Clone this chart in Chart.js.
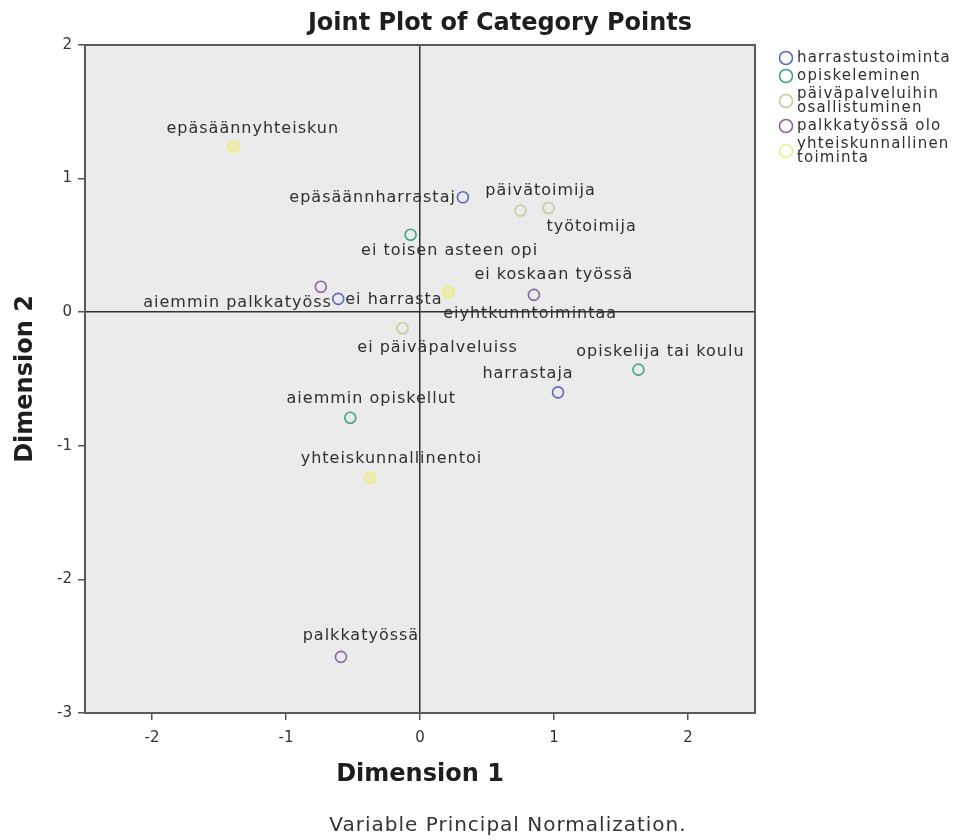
<!DOCTYPE html>
<html>
<head>
<meta charset="utf-8">
<script src="https://cdn.jsdelivr.net/npm/chart.js@4.4.1/dist/chart.umd.min.js"></script>
<style>
  html, body { margin: 0; background: #fff; }
  #wrap { width: 974px; height: 840px; }
</style>
</head>
<body>
<div id="wrap"><canvas id="joint"></canvas></div>
<script>
// category points (dimension 1 = x, dimension 2 = y)
const groupNames = ['harrastustoiminta', 'opiskeleminen', 'päiväpalveluihin osallistuminen', 'palkkatyössä olo', 'yhteiskunnallinen toiminta'];

const harrastusLabels = ['epäsäännharrastaj', 'ei harrasta', 'harrastaja'];
const harrastusX = [0.32, -0.61, 1.03];
const harrastusY = [0.86, 0.10, -0.60];

const opiskeluLabels = ['ei toisen asteen opi', 'aiemmin opiskellut', 'opiskelija tai koulu'];
const opiskeluX = [-0.07, -0.52, 1.63];
const opiskeluY = [0.58, -0.79, -0.43];

const paivaLabels = ['päivätoimija', 'työtoimija', 'ei päiväpalveluiss'];
const paivaX = [0.75, 0.96, -0.13];
const paivaY = [0.76, 0.78, -0.12];

const palkkaLabels = ['aiemmin palkkatyöss', 'ei koskaan työssä', 'palkkatyössä'];
const palkkaX = [-0.74, 0.85, -0.59];
const palkkaY = [0.19, 0.13, -2.58];

const yhteisLabels = ['epäsäännyhteiskun', 'eiyhtkunntoimintaa', 'yhteiskunnallinentoi'];
const yhteisX = [-1.39, 0.21, -0.37];
const yhteisY = [1.24, 0.15, -1.24];

const xTicks = [-2, -1, 0, 1, 2];
const yTicks = [-3, -2, -1, 0, 1, 2];

// where each label sits next to its point: [align, dx, dy] in px
const harrastusPos = [['right', -7, 1], ['left', 7, 1], ['center', -30, -19]];
const opiskeluPos = [['center', 39, 16], ['center', 21, -19], ['center', 22, -18]];
const paivaPos = [['center', 20, -20], ['center', 43, 19], ['center', 35, 20]];
const palkkaPos = [['right', 11, 16], ['center', 20, -20], ['center', 20, -21]];
const yhteisPos = [['center', 19, -18], ['center', 82, 22], ['center', 21, -19]];

const colors = ['#5a68bb', '#3fa57c', '#cbc99f', '#8a62a6', '#ecec8e'];
const FONT = '"DejaVu Sans", sans-serif';

function pts(xs, ys) {
  return xs.map((x, i) => ({ x: x, y: ys[i] }));
}

const groups = [
  { xs: harrastusX, ys: harrastusY, labels: harrastusLabels, pos: harrastusPos },
  { xs: opiskeluX, ys: opiskeluY, labels: opiskeluLabels, pos: opiskeluPos },
  { xs: paivaX, ys: paivaY, labels: paivaLabels, pos: paivaPos },
  { xs: palkkaX, ys: palkkaY, labels: palkkaLabels, pos: palkkaPos },
  { xs: yhteisX, ys: yhteisY, labels: yhteisLabels, pos: yhteisPos }
];

const datasets = groups.map((g, i) => ({
  label: groupNames[i],
  data: pts(g.xs, g.ys),
  pointLabels: g.labels,
  labelPos: g.pos,
  borderColor: colors[i],
  backgroundColor: i === 4 ? 'rgba(236,236,142,0.55)' : 'rgba(0,0,0,0)',
  pointRadius: 5.5,
  pointHoverRadius: 5.5,
  borderWidth: i === 4 ? 2 : 1.6
}));

const plotFrame = {
  id: 'plotFrame',
  beforeDraw(chart) {
    const { ctx, chartArea: a } = chart;
    ctx.save();
    ctx.fillStyle = '#ebebeb';
    ctx.fillRect(a.left, a.top, a.right - a.left, a.bottom - a.top);
    ctx.restore();
  },
  afterDraw(chart) {
    const { ctx, chartArea: a } = chart;
    ctx.save();
    ctx.strokeStyle = '#5a5a5a';
    ctx.lineWidth = 2;
    ctx.strokeRect(a.left, a.top, a.right - a.left, a.bottom - a.top);
    ctx.restore();
  }
};

const pointText = {
  id: 'pointText',
  afterDatasetsDraw(chart) {
    const ctx = chart.ctx;
    ctx.save();
    ctx.font = '16px ' + FONT;
    ctx.letterSpacing = '1px';
    ctx.fillStyle = '#2f2f2f';
    ctx.textBaseline = 'middle';
    chart.data.datasets.forEach((ds, i) => {
      chart.getDatasetMeta(i).data.forEach((el, j) => {
        const p = ds.labelPos[j];
        ctx.textAlign = p[0];
        ctx.fillText(ds.pointLabels[j], el.x + p[1], el.y + p[2]);
      });
    });
    ctx.restore();
  }
};

// legend on the right, long names wrapped onto two lines
const sideLegend = {
  id: 'sideLegend',
  afterDraw(chart) {
    const ctx = chart.ctx;
    ctx.save();
    ctx.font = '15px ' + FONT;
    ctx.letterSpacing = '1.2px';
    ctx.fillStyle = '#2f2f2f';
    ctx.textBaseline = 'middle';
    ctx.textAlign = 'left';
    let y = 58;
    chart.data.datasets.forEach((ds) => {
      const words = ds.label.split(' ');
      const lines = [];
      let cur = '';
      words.forEach((w) => {
        const t = cur ? cur + ' ' + w : w;
        if (cur && ctx.measureText(t).width > 170) { lines.push(cur); cur = w; } else { cur = t; }
      });
      lines.push(cur);
      const mid = y + (lines.length - 1) * 7;
      ctx.beginPath();
      ctx.arc(786, mid, 6.5, 0, Math.PI * 2);
      ctx.strokeStyle = ds.borderColor;
      ctx.lineWidth = 1.6;
      ctx.stroke();
      lines.forEach((l, k) => ctx.fillText(l, 797, y + k * 14));
      y += (lines.length - 1) * 14 + 18;
    });
    ctx.restore();
  }
};

const titles = {
  id: 'titles',
  afterDraw(chart) {
    const ctx = chart.ctx;
    ctx.save();
    ctx.textAlign = 'center';
    ctx.textBaseline = 'middle';
    ctx.fillStyle = '#1e1e1e';
    ctx.font = 'bold 24px ' + FONT;
    ctx.fillText('Joint Plot of Category Points', 500, 24);
    ctx.fillStyle = '#333';
    ctx.font = '20px ' + FONT;
    ctx.letterSpacing = '1px';
    ctx.fillText('Variable Principal Normalization.', 508, 826);
    ctx.restore();
  }
};

const zeroLine = (c) => (c.tick && c.tick.value === 0 ? '#333' : 'rgba(0,0,0,0)');

new Chart(document.getElementById('joint'), {
  type: 'scatter',
  data: { datasets: datasets },
  options: {
    responsive: true,
    maintainAspectRatio: false,
    animation: false,
    layout: { padding: { left: 0, right: 219, top: 45, bottom: 51 } },
    plugins: {
      legend: { display: false },
      tooltip: { enabled: false }
    },
    scales: {
      x: {
        type: 'linear',
        min: -2.5,
        max: 2.5,
        afterFit(s) { s.height = 76; },
        afterBuildTicks(s) { s.ticks = xTicks.map((v) => ({ value: v })); },
        grid: { color: zeroLine, tickColor: '#555', tickLength: 7, lineWidth: 1.5 },
        border: { color: '#5a5a5a', width: 2 },
        ticks: { color: '#333', padding: 9, font: { family: FONT, size: 15 } },
        title: {
          display: true,
          text: 'Dimension 1',
          color: '#1e1e1e',
          padding: { top: 0, bottom: 0 },
          font: { family: FONT, size: 24, weight: 'bold' }
        }
      },
      y: {
        type: 'linear',
        min: -3,
        max: 2,
        afterFit(s) { s.width = 85; },
        afterBuildTicks(s) { s.ticks = yTicks.map((v) => ({ value: v })); },
        grid: { color: zeroLine, tickColor: '#555', tickLength: 7, lineWidth: 1.5 },
        border: { color: '#5a5a5a', width: 2 },
        ticks: { color: '#333', padding: 6, font: { family: FONT, size: 15 } },
        title: {
          display: true,
          text: 'Dimension 2',
          color: '#1e1e1e',
          padding: { top: 11, bottom: 0 },
          font: { family: FONT, size: 24, weight: 'bold' }
        }
      }
    }
  },
  plugins: [plotFrame, pointText, sideLegend, titles]
});
</script>
</body>
</html>
